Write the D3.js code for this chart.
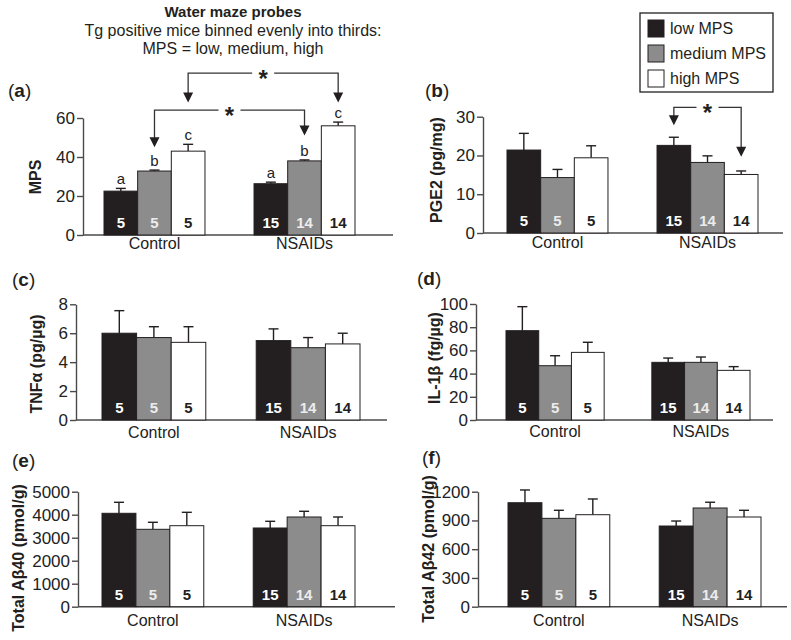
<!DOCTYPE html>
<html>
<head>
<meta charset="utf-8">
<script src="https://cdn.jsdelivr.net/npm/d3@7"></script>
<style>
  body { margin: 0; background: #fff; }
  svg { font-family: "Liberation Sans", Arial, sans-serif; }
</style>
</head>
<body>
<script>
// Groups and bins
const groups = ["Control", "NSAIDs"];
const bins = ["low MPS", "medium MPS", "high MPS"];
const nCounts = [[5, 5, 5], [15, 14, 14]];

// Values: [Control], [NSAIDs]
const mpsMean = [[22.5, 32.8, 43], [26.3, 38, 56]];
const mpsSem = [[1.4, 0.5, 3.5], [0.8, 0.5, 1.9]];
const mpsLetters = [["a", "b", "c"], ["a", "b", "c"]];

const pge2Mean = [[21.4, 14.3, 19.4], [22.6, 18.2, 15.1]];
const pge2Sem = [[4.3, 2.1, 3.1], [2.1, 1.7, 0.9]];

const tnfMean = [[6.0, 5.7, 5.37], [5.49, 5.0, 5.26]];
const tnfSem = [[1.56, 0.75, 1.08], [0.81, 0.7, 0.74]];

const il1Mean = [[77, 46.8, 58.3], [49.7, 49.7, 42.8]];
const il1Sem = [[20.7, 8.6, 8.7], [3.7, 4.6, 3.2]];

const ab40Mean = [[4061, 3365, 3522], [3422, 3900, 3522]];
const ab40Sem = [[478, 305, 582], [291, 248, 378]];

const ab42Mean = [[1085, 922, 960], [842, 1030, 936]];
const ab42Sem = [[133, 84, 164], [52, 60, 70]];

// Tick values
const mpsTicks = [0, 20, 40, 60];
const pge2Ticks = [0, 10, 20, 30];
const tnfTicks = [0, 2, 4, 6, 8];
const il1Ticks = [0, 20, 40, 60, 80, 100];
const ab40Ticks = [0, 1000, 2000, 3000, 4000, 5000];
const ab42Ticks = [0, 300, 600, 900, 1200];

// Significance brackets (in data units of the panel)
const mpsBrackets = [
  { from: [0, 2], to: [1, 2], level: 83, tipFrom: 68, tipTo: 68 },
  { from: [0, 1], to: [1, 1], level: 64, tipFrom: 45, tipTo: 51 }
];
const pge2Brackets = [
  { from: [1, 0], to: [1, 2], level: 32.4, tipFrom: 27.8, tipTo: 19.7 }
];

const titleLines = ["Water maze probes", "Tg positive mice binned evenly into thirds:", "MPS = low, medium, high"];

const width = 791;
const height = 640;
const black = "#231f20";
const fills = [black, "#8c8c8c", "#ffffff"];
const nColors = ["#ffffff", "#ececec", black];
const axisColor = "#4a4a4a";

const svg = d3.select("body").append("svg")
  .attr("width", width)
  .attr("height", height)
  .attr("viewBox", `0 0 ${width} ${height}`);

// Panel definitions (layout in pixels)
const panels = [
  { tag: "a", label: "MPS", mean: mpsMean, sem: mpsSem, letters: mpsLetters, ticks: mpsTicks, brackets: mpsBrackets,
    ax: 83, ae: 393, b0: 104, b1: 355, y0: 235, y1: 118, tagX: 8, tagY: 97, lx: 41, ly: 177, xl: 249 },
  { tag: "b", label: "PGE2 (pg/mg)", mean: pge2Mean, sem: pge2Sem, ticks: pge2Ticks, brackets: pge2Brackets,
    ax: 483, ae: 783, b0: 507, b1: 758, y0: 233, y1: 116.7, tagX: 425, tagY: 97, lx: 442, ly: 170, xl: 248 },
  { tag: "c", label: "TNFα (pg/µg)", mean: tnfMean, sem: tnfSem, ticks: tnfTicks,
    ax: 76, ae: 387, b0: 102, b1: 360, y0: 420, y1: 304.3, tagX: 12, tagY: 286, lx: 42, ly: 364, xl: 438 },
  { tag: "d", label: "IL-1β (fg/µg)", mean: il1Mean, sem: il1Sem, ticks: il1Ticks,
    ax: 476, ae: 773, b0: 506, b1: 750, y0: 420, y1: 304, tagX: 417, tagY: 285, lx: 440, ly: 358, xl: 437 },
  { tag: "e", label: "Total Aβ40 (pmol/g)", mean: ab40Mean, sem: ab40Sem, ticks: ab40Ticks,
    ax: 78, ae: 395, b0: 102, b1: 355, y0: 606.7, y1: 491.7, tagX: 12, tagY: 467, lx: 24, ly: 558, xl: 626 },
  { tag: "f", label: "Total Aβ42 (pmol/g)", mean: ab42Mean, sem: ab42Sem, ticks: ab42Ticks,
    ax: 478, ae: 787, b0: 508, b1: 761, y0: 606.7, y1: 491.7, tagX: 422, tagY: 464, lx: 434, ly: 549, xl: 626 }
];

function drawPanel(p) {
  const g = svg.append("g");

  const y = d3.scaleLinear()
    .domain([0, d3.max(p.ticks)])
    .range([p.y0, p.y1]);

  const x = d3.scaleBand()
    .domain(groups)
    .range([p.b0, p.b1])
    .paddingInner(0.327);

  const xs = d3.scaleBand()
    .domain(bins)
    .range([0, x.bandwidth()]);

  const cx = (gi, bi) => x(groups[gi]) + xs(bins[bi]) + xs.bandwidth() / 2;

  // y axis
  g.append("g")
    .attr("transform", `translate(${p.ax},0)`)
    .call(d3.axisLeft(y).tickValues(p.ticks).tickFormat(d3.format("d"))
      .tickSize(6).tickSizeOuter(0).tickPadding(2))
    .call(a => a.select(".domain").attr("stroke", axisColor).attr("stroke-width", 1.4))
    .call(a => a.selectAll(".tick line").attr("stroke", axisColor).attr("stroke-width", 1.4))
    .call(a => a.selectAll(".tick text").attr("fill", "#222").style("font-size", "17px")
      .style("font-family", "'Liberation Sans', Arial, sans-serif"));

  // x baseline
  g.append("line")
    .attr("x1", p.ax).attr("x2", p.ae)
    .attr("y1", p.y0).attr("y2", p.y0)
    .attr("stroke", axisColor).attr("stroke-width", 1.4);

  // group labels
  g.selectAll("text.grp")
    .data(groups)
    .join("text")
    .attr("class", "grp")
    .attr("x", d => x(d) + x.bandwidth() / 2)
    .attr("y", p.xl)
    .attr("text-anchor", "middle")
    .style("font-size", "16px")
    .attr("fill", "#222")
    .text(d => d);

  const cells = [];
  groups.forEach((gName, gi) => bins.forEach((bName, bi) => {
    cells.push({ gi, bi, mean: p.mean[gi][bi], sem: p.sem[gi][bi], n: nCounts[gi][bi],
      letter: p.letters ? p.letters[gi][bi] : null });
  }));

  // error bars (drawn first so the bar covers the lower half)
  const err = g.append("g").attr("stroke", black).attr("stroke-width", 1.4);
  err.selectAll("line.v")
    .data(cells)
    .join("line")
    .attr("class", "v")
    .attr("x1", d => cx(d.gi, d.bi)).attr("x2", d => cx(d.gi, d.bi))
    .attr("y1", d => y(d.mean)).attr("y2", d => y(d.mean + d.sem));
  err.selectAll("line.c")
    .data(cells)
    .join("line")
    .attr("class", "c")
    .attr("x1", d => cx(d.gi, d.bi) - 5).attr("x2", d => cx(d.gi, d.bi) + 5)
    .attr("y1", d => y(d.mean + d.sem)).attr("y2", d => y(d.mean + d.sem));

  // bars
  g.append("g")
    .selectAll("rect")
    .data(cells)
    .join("rect")
    .attr("x", d => x(groups[d.gi]) + xs(bins[d.bi]))
    .attr("width", xs.bandwidth())
    .attr("y", d => y(d.mean))
    .attr("height", d => p.y0 - y(d.mean))
    .attr("fill", d => fills[d.bi])
    .attr("stroke", black)
    .attr("stroke-width", 1);

  // n labels
  g.append("g")
    .selectAll("text")
    .data(cells)
    .join("text")
    .attr("x", d => cx(d.gi, d.bi))
    .attr("y", p.y0 - 7)
    .attr("text-anchor", "middle")
    .style("font-size", "15px")
    .style("font-weight", "bold")
    .attr("fill", d => nColors[d.bi])
    .text(d => d.n);

  // letters above error bars
  if (p.letters) {
    g.append("g")
      .selectAll("text")
      .data(cells)
      .join("text")
      .attr("x", d => cx(d.gi, d.bi))
      .attr("y", d => y(d.mean + d.sem) - 4)
      .attr("text-anchor", "middle")
      .style("font-size", "15px")
      .attr("fill", "#222")
      .text(d => d.letter);
  }

  // significance brackets
  (p.brackets || []).forEach(b => {
    const xa = cx(b.from[0], b.from[1]);
    const xb = cx(b.to[0], b.to[1]);
    const ly = y(b.level);
    const mid = (xa + xb) / 2;
    const bg = g.append("g");
    bg.append("path")
      .attr("fill", "none")
      .attr("stroke", "#333")
      .attr("stroke-width", 1.3)
      .attr("d", `M${mid - 11},${ly}H${xa}V${y(b.tipFrom) - 9}M${mid + 11},${ly}H${xb}V${y(b.tipTo) - 9}`);
    [[xa, y(b.tipFrom)], [xb, y(b.tipTo)]].forEach(([tx, ty]) => {
      bg.append("path")
        .attr("fill", black)
        .attr("d", `M${tx - 5},${ty - 10}L${tx + 5},${ty - 10}L${tx},${ty}Z`);
    });
    bg.append("text")
      .attr("x", mid)
      .attr("y", ly + 14)
      .attr("text-anchor", "middle")
      .style("font-size", "24px")
      .style("font-weight", "bold")
      .attr("fill", black)
      .text("*");
  });

  // y label
  g.append("text")
    .attr("transform", `translate(${p.lx},${p.ly}) rotate(-90)`)
    .attr("text-anchor", "middle")
    .style("font-size", "16px")
    .style("font-weight", "bold")
    .attr("fill", black)
    .text(p.label);

  // panel tag
  const t = g.append("text")
    .attr("x", p.tagX)
    .attr("y", p.tagY)
    .style("font-size", "19px")
    .attr("fill", black);
  t.append("tspan").text("(");
  t.append("tspan").style("font-weight", "bold").text(p.tag);
  t.append("tspan").text(")");
}

panels.forEach(drawPanel);

// Title
svg.append("g")
  .attr("text-anchor", "middle")
  .attr("fill", black)
  .selectAll("text")
  .data(titleLines)
  .join("text")
  .attr("x", 233)
  .attr("y", (d, i) => 17 + i * 18.5)
  .style("font-size", (d, i) => i === 0 ? "15px" : "16px")
  .style("font-weight", (d, i) => i === 0 ? "bold" : "normal")
  .text(d => d);

// Legend
const legend = svg.append("g").attr("transform", "translate(640,13)");
legend.append("rect")
  .attr("width", 133).attr("height", 79)
  .attr("fill", "#fff").attr("stroke", black).attr("stroke-width", 1.3);
const item = legend.selectAll("g")
  .data(bins)
  .join("g")
  .attr("transform", (d, i) => `translate(8,${7 + i * 25})`);
item.append("rect")
  .attr("width", 16).attr("height", 17)
  .attr("fill", (d, i) => fills[i])
  .attr("stroke", black).attr("stroke-width", 1);
item.append("text")
  .attr("x", 22).attr("y", 14)
  .style("font-size", "16px")
  .attr("fill", black)
  .text(d => d);
</script>
</body>
</html>
